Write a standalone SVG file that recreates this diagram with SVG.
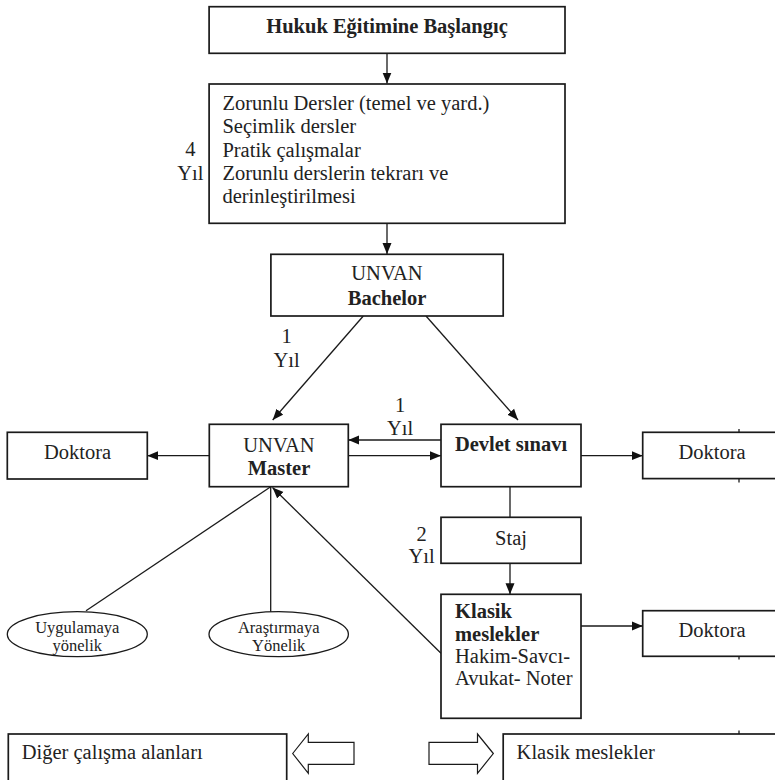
<svg xmlns="http://www.w3.org/2000/svg" width="775" height="780" viewBox="0 0 775 780">
<defs>
<marker id="ah" markerUnits="userSpaceOnUse" markerWidth="11" markerHeight="10" refX="11" refY="5" orient="auto">
<path d="M0,0.5 L11,5 L0,9.5 z" fill="#111"/>
</marker>
<style>
.box{fill:#fff;stroke:#1a1a1a;stroke-width:1.7}
.ell{fill:#fff;stroke:#1a1a1a;stroke-width:1.3}
.ln{fill:none;stroke:#1a1a1a;stroke-width:1.3}
.arr{fill:none;stroke:#1a1a1a;stroke-width:1.3;marker-end:url(#ah)}
.hol{fill:#fff;stroke:#1a1a1a;stroke-width:1.2}
text{fill:#222;font-size:20.5px}
.c{text-anchor:middle}
.b{font-weight:bold}
.s{font-size:16.5px}
</style>
</defs>
<rect width="775" height="780" fill="#fff"/>

<g id="connectors">
<line class="arr" x1="387" y1="53.3" x2="387" y2="83.5"/>
<line class="arr" x1="387" y1="223.3" x2="387" y2="254"/>
<line class="arr" x1="363.3" y1="316" x2="272.7" y2="420"/>
<line class="arr" x1="426" y1="316" x2="518" y2="420"/>
<line class="arr" x1="441" y1="440" x2="348.3" y2="440"/>
<line class="arr" x1="348.3" y1="455.7" x2="441" y2="455.7"/>
<line class="arr" x1="209.3" y1="455.7" x2="147.3" y2="455.7"/>
<line class="arr" x1="581" y1="455.7" x2="642.7" y2="455.7"/>
<line class="ln" x1="510" y1="486.7" x2="510" y2="517.3"/>
<line class="arr" x1="510" y1="563.3" x2="510" y2="594.3"/>
<line class="arr" x1="581" y1="626" x2="642.7" y2="626"/>
<line class="ln" x1="270.7" y1="486.7" x2="86" y2="610.7"/>
<line class="ln" x1="270.7" y1="486.7" x2="270.7" y2="611.7"/>
<line class="arr" x1="441" y1="653.3" x2="272.5" y2="487.5"/>
<polygon class="hol" points="292.7,753.5 308.3,734 308.3,742.3 354,742.3 354,764.3 308.3,764.3 308.3,773.3"/>
<polygon class="hol" points="493.3,753.5 477.5,734 477.5,742.3 429,742.3 429,764.3 477.5,764.3 477.5,773.3"/>
</g>

<g font-family="'Liberation Serif', 'Times New Roman', Times, serif">
<g id="n-baslangic">
<rect class="box" x="209.1" y="6.7" width="355.9" height="46.6"/>
<text class="c b" x="387" y="33.3">Hukuk Eğitimine Başlangıç</text>
</g>

<g id="n-dersler">
<rect class="box" x="209.1" y="84" width="355.9" height="139.3"/>
<text x="222.4" y="110">Zorunlu Dersler (temel ve yard.)</text>
<text x="222.4" y="133.3">Seçimlik dersler</text>
<text x="222.4" y="156.7">Pratik çalışmalar</text>
<text x="222.4" y="180">Zorunlu derslerin tekrarı ve</text>
<text x="222.4" y="203.3">derinleştirilmesi</text>
</g>
<g id="lbl-4yil">
<text class="c" x="190.3" y="155.7">4</text>
<text class="c" x="190.3" y="180">Yıl</text>
</g>

<g id="n-bachelor">
<rect class="box" x="270.9" y="254.3" width="232.3" height="61.7"/>
<text class="c" x="387" y="280">UNVAN</text>
<text class="c b" x="387" y="305">Bachelor</text>
</g>
<g id="lbl-1yil-a">
<text class="c" x="286.5" y="342.7">1</text>
<text class="c" x="286.5" y="366.7">Yıl</text>
</g>
<g id="lbl-1yil-b">
<text class="c" x="400" y="411.7">1</text>
<text class="c" x="400" y="435">Yıl</text>
</g>

<g id="n-master">
<rect class="box" x="209.3" y="424.3" width="139" height="62.4"/>
<text class="c" x="279" y="451.5">UNVAN</text>
<text class="c b" x="279" y="475">Master</text>
</g>

<g id="n-doktora-left">
<rect class="box" x="7.3" y="432.3" width="140" height="46.7"/>
<text class="c" x="77.5" y="459.3">Doktora</text>
</g>

<g id="n-devlet">
<rect class="box" x="441" y="424.3" width="140" height="62.4"/>
<text class="c b" x="511" y="450.7">Devlet sınavı</text>
</g>

<g id="n-doktora-right1">
<rect class="box" x="642.7" y="432.3" width="150" height="46.3"/>
<text class="c" x="712" y="459.3">Doktora</text>
<line class="ln" x1="739" y1="429" x2="739" y2="432.3"/>
<line class="ln" x1="739" y1="478.6" x2="739" y2="482.5"/>
</g>

<g id="n-staj">
<rect class="box" x="441" y="517.3" width="140" height="46"/>
<text class="c" x="511" y="545">Staj</text>
</g>
<g id="lbl-2yil">
<text class="c" x="421.5" y="540.5">2</text>
<text class="c" x="421.5" y="563.3">Yıl</text>
</g>

<g id="n-klasik">
<rect class="box" x="441" y="594.3" width="140" height="124"/>
<text class="b" x="455" y="618.3">Klasik</text>
<text class="b" x="455" y="640.7">meslekler</text>
<text x="455" y="662.7">Hakim-Savcı-</text>
<text x="455" y="685">Avukat- Noter</text>
</g>

<g id="n-doktora-right2">
<rect class="box" x="642.7" y="610.7" width="150" height="45.6"/>
<text class="c" x="712" y="636.7">Doktora</text>
<line class="ln" x1="739" y1="656.3" x2="739" y2="659.5"/>
</g>

<g id="n-uygulamaya">
<ellipse class="ell" cx="77.3" cy="634.2" rx="70" ry="22.5"/>
<text class="c s" x="77.3" y="632.5">Uygulamaya</text>
<text class="c s" x="77.3" y="650.5">yönelik</text>
</g>

<g id="n-arastirmaya">
<ellipse class="ell" cx="278.7" cy="634.2" rx="69.7" ry="22.5"/>
<text class="c s" x="278.7" y="632.5">Araştırmaya</text>
<text class="c s" x="278.7" y="650.5">Yönelik</text>
</g>

<g id="n-diger">
<rect class="box" x="8.3" y="734" width="278.4" height="60"/>
<text x="21.7" y="759">Diğer çalışma alanları</text>
</g>

<g id="n-klasik-meslekler">
<rect class="box" x="503.2" y="734" width="290" height="60"/>
<text x="516.6" y="759">Klasik meslekler</text>
<line class="ln" x1="739" y1="730.5" x2="739" y2="734"/>
</g>
</g>
</svg>
